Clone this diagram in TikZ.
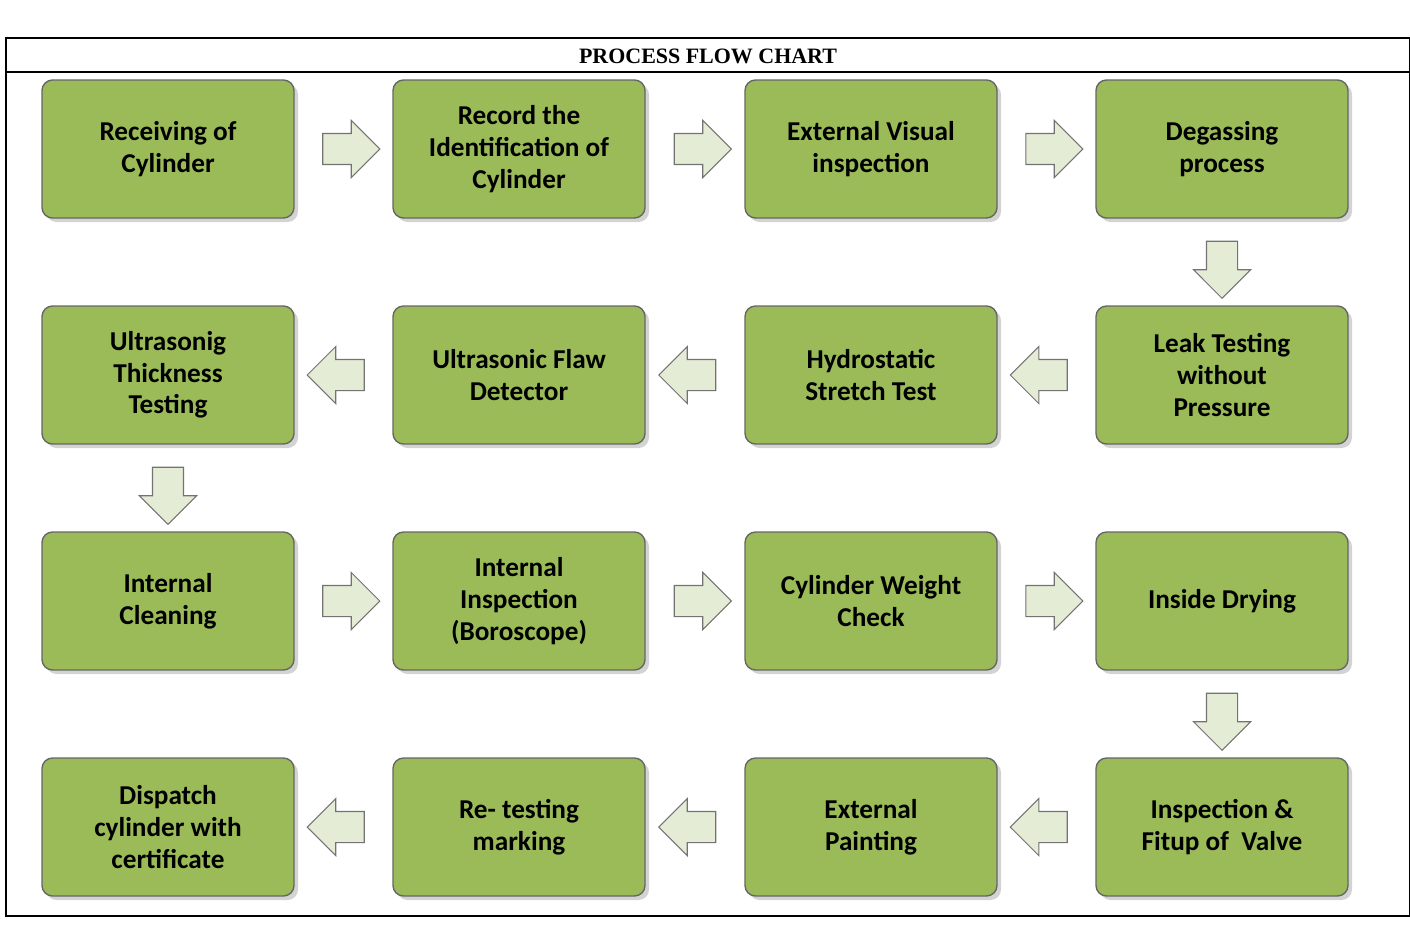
\documentclass[tikz,border=0pt]{standalone}
\usepackage{fontspec}
\setmainfont{Liberation Serif}
\newfontfamily\boxfont{Carlito}
\usetikzlibrary{shapes.arrows,shadows,calc}
\definecolor{stagegreen}{RGB}{155,187,89}
\definecolor{arrowfill}{RGB}{228,236,214}
\newcommand{\colx}{0.02cm}

\begin{document}
\begin{tikzpicture}[x=0.02cm,y=-0.02cm,
    stage/.style={draw=black!60, fill=stagegreen, rounded corners=6pt, line width=0.8pt,
        minimum width=252*\colx, minimum height=138*\colx, align=center,
        font=\boxfont\bfseries\fontsize{15.5}{18}\selectfont, drop shadow={opacity=0.35}},
    flow/.style={single arrow, draw=black!55, fill=arrowfill, line width=0.6pt,
        minimum height=1.14cm, inner sep=0.3cm, single arrow head extend=0.26cm}]
    \useasboundingbox (0,0) rectangle (1410,950);
    % frame and title
    \draw[line width=1.6pt] (6,38) rectangle (1410,916);
    \draw[line width=1.2pt] (6,72) -- (1410,72);
    \node[font=\bfseries\fontsize{12.5}{14}\selectfont] (title) at (708,56) {PROCESS FLOW CHART};

    % First row
    \node[stage] (s-1-1) at (168,149) {Receiving of\\Cylinder};
    \node[stage] (s-1-2) at (519,149) {Record the\\Identification of\\Cylinder};
    \node[stage] (s-1-3) at (871,149) {External Visual\\inspection};
    \node[stage] (s-1-4) at (1222,149) {Degassing\\process};

    \node[stage] (s-2-1) at (168,375) {Ultrasonig\\Thickness\\Testing};
    \node[stage] (s-2-2) at (519,375) {Ultrasonic Flaw\\Detector};
    \node[stage] (s-2-3) at (871,375) {Hydrostatic\\Stretch Test};
    \node[stage] (s-2-4) at (1222,375) {Leak Testing\\without\\Pressure};

    \node[stage] (s-3-1) at (168,601) {Internal\\Cleaning};
    \node[stage] (s-3-2) at (519,601) {Internal\\Inspection\\(Boroscope)};
    \node[stage] (s-3-3) at (871,601) {Cylinder Weight\\Check};
    \node[stage] (s-3-4) at (1222,601) {Inside Drying};

    \node[stage] (s-4-1) at (168,827) {Dispatch\\cylinder with\\certificate};
    \node[stage] (s-4-2) at (519,827) {Re- testing\\marking};
    \node[stage] (s-4-3) at (871,827) {External\\Painting};
    \node[stage] (s-4-4) at (1222,827) {Inspection \&\\Fitup of~ Valve};

    % arrows between stages
    \foreach \r in {1,3} {
        \node[flow] at ($(s-\r-1.east)!0.5!(s-\r-2.west)$) {};
        \node[flow] at ($(s-\r-2.east)!0.5!(s-\r-3.west)$) {};
        \node[flow] at ($(s-\r-3.east)!0.5!(s-\r-4.west)$) {};
    }
    \foreach \r in {2,4} {
        \node[flow, shape border rotate=180] at ($(s-\r-1.east)!0.5!(s-\r-2.west)$) {};
        \node[flow, shape border rotate=180] at ($(s-\r-2.east)!0.5!(s-\r-3.west)$) {};
        \node[flow, shape border rotate=180] at ($(s-\r-3.east)!0.5!(s-\r-4.west)$) {};
    }
    \node[flow, shape border rotate=270] at ($(s-1-4.south)!0.5!(s-2-4.north)$) {};
    \node[flow, shape border rotate=270] at ($(s-2-1.south)!0.5!(s-3-1.north)$) {};
    \node[flow, shape border rotate=270] at ($(s-3-4.south)!0.5!(s-4-4.north)$) {};
\end{tikzpicture}
\end{document}
